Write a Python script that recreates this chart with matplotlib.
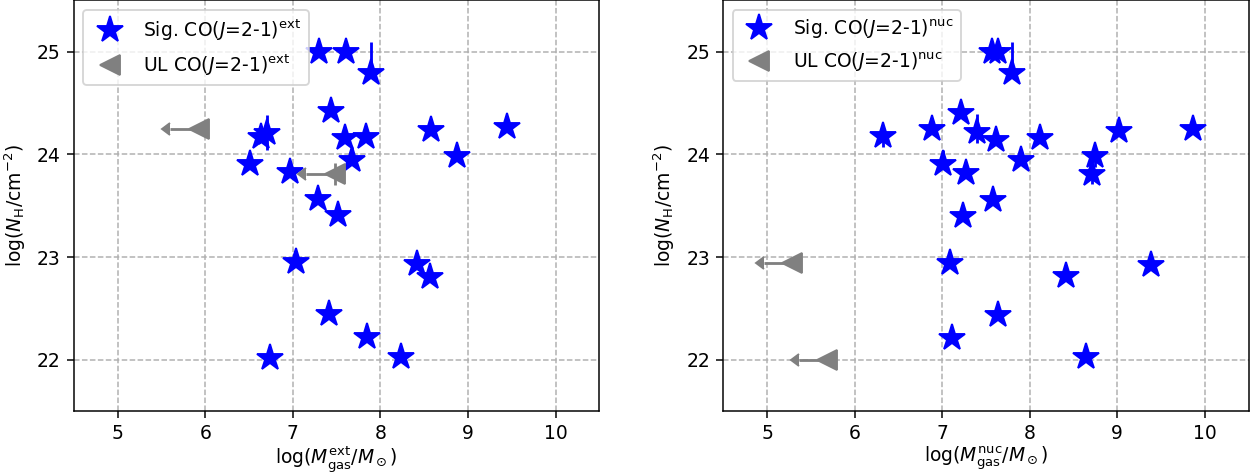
import numpy as np
import matplotlib
matplotlib.use('Agg')
import matplotlib.pyplot as plt

# --- протяжённая компонента (ext) ---
mgas_ext = [7.30, 7.61, 7.89, 7.44, 6.71, 6.64, 6.51, 6.97, 7.60, 7.83, 7.68,
            8.58, 9.45, 8.88, 8.42, 8.57, 7.29, 7.51, 7.04, 7.41, 7.85, 6.74, 8.23]
nh_ext = [25.00, 25.00, 24.79, 24.42, 24.21, 24.17, 23.91, 23.83, 24.16, 24.17, 23.95,
          24.24, 24.27, 23.98, 22.93, 22.81, 23.57, 23.41, 22.95, 22.45, 22.22, 22.02, 22.03]
nh_ext_lo = [0, 0, 0.05, 0, 0.17, 0, 0, 0, 0, 0, 0,
             0, 0, 0, 0, 0, 0, 0, 0, 0, 0, 0, 0]
nh_ext_hi = [0, 0, 0.31, 0, 0.17, 0, 0, 0, 0, 0, 0,
             0, 0, 0, 0, 0, 0, 0, 0, 0, 0, 0, 0]

# верхние пределы
mgas_ext_ul = [5.93, 7.48]
nh_ext_ul = [24.25, 23.81]
nh_ext_ul_err = [0.0, 0.11]

# --- ядерная компонента (nuc) ---
mgas_nuc = [6.33, 6.88, 7.01, 7.09, 7.11, 7.21, 7.24, 7.27, 7.40, 7.57, 7.64, 7.58,
            7.61, 7.64, 7.80, 7.90, 8.12, 8.42, 8.64, 8.71, 8.75, 9.02, 9.38, 9.86]
nh_nuc = [24.18, 24.25, 23.91, 22.94, 22.21, 24.40, 23.40, 23.82, 24.22, 25.00, 25.00, 23.56,
          24.14, 22.44, 24.79, 23.95, 24.16, 22.82, 22.03, 23.81, 23.98, 24.23, 22.92, 24.25]
nh_nuc_lo = [0.11, 0, 0, 0, 0, 0, 0, 0, 0.11, 0, 0, 0,
             0, 0, 0.05, 0, 0, 0, 0, 0.10, 0.10, 0, 0, 0]
nh_nuc_hi = [0, 0, 0.13, 0, 0, 0, 0, 0, 0.17, 0, 0, 0,
             0, 0, 0.31, 0, 0, 0, 0, 0.10, 0.10, 0, 0, 0]

mgas_nuc_ul = [5.29, 5.69]
nh_nuc_ul = [22.94, 22.00]
nh_nuc_ul_err = [0.0, 0.0]

ul_len = 0.33

fig, axes = plt.subplots(1, 2, figsize=(1258 / 135, 473 / 135), dpi=135)
plt.subplots_adjust(left=0.0588, right=0.9925, bottom=0.131, top=0.999, wspace=0.236)

panels = [
    (axes[0], 'ext', mgas_ext, nh_ext, nh_ext_lo, nh_ext_hi, mgas_ext_ul, nh_ext_ul, nh_ext_ul_err),
    (axes[1], 'nuc', mgas_nuc, nh_nuc, nh_nuc_lo, nh_nuc_hi, mgas_nuc_ul, nh_nuc_ul, nh_nuc_ul_err),
]

for ax, tag, mx, my, ylo, yhi, ux, uy, uyerr in panels:
    # погрешности по N_H
    ax.errorbar(mx, my, yerr=[ylo, yhi], fmt='none', ecolor='blue', elinewidth=1.5)
    ax.plot(mx, my, '*', color='blue', ms=14.5, ls='none',
            label=r'Sig. CO($J$=2-1)$^{\rm %s}$' % tag)

    # верхние пределы по массе газа
    ax.errorbar(ux, uy, xerr=ul_len, yerr=uyerr, xuplims=True, fmt='none',
                color='gray', ecolor='gray', elinewidth=1.5, markersize=7.5)
    ax.plot(ux, uy, '<', color='gray', ms=10.5, ls='none',
            label=r'UL CO($J$=2-1)$^{\rm %s}$' % tag)

    ax.set_xlim(4.5, 10.5)
    ax.set_ylim(21.5, 25.5)
    ax.set_xticks([5, 6, 7, 8, 9, 10])
    ax.set_yticks([22, 23, 24, 25])
    ax.grid(True, linestyle='--')
    ax.set_xlabel(r'log($M_{\rm gas}^{\rm %s}/M_\odot$)' % tag, labelpad=1)
    ax.set_ylabel(r'log($N_{\rm H}$/cm$^{-2}$)', labelpad=5)
    ax.legend(loc='upper left')

plt.savefig('out.png', dpi=135)
